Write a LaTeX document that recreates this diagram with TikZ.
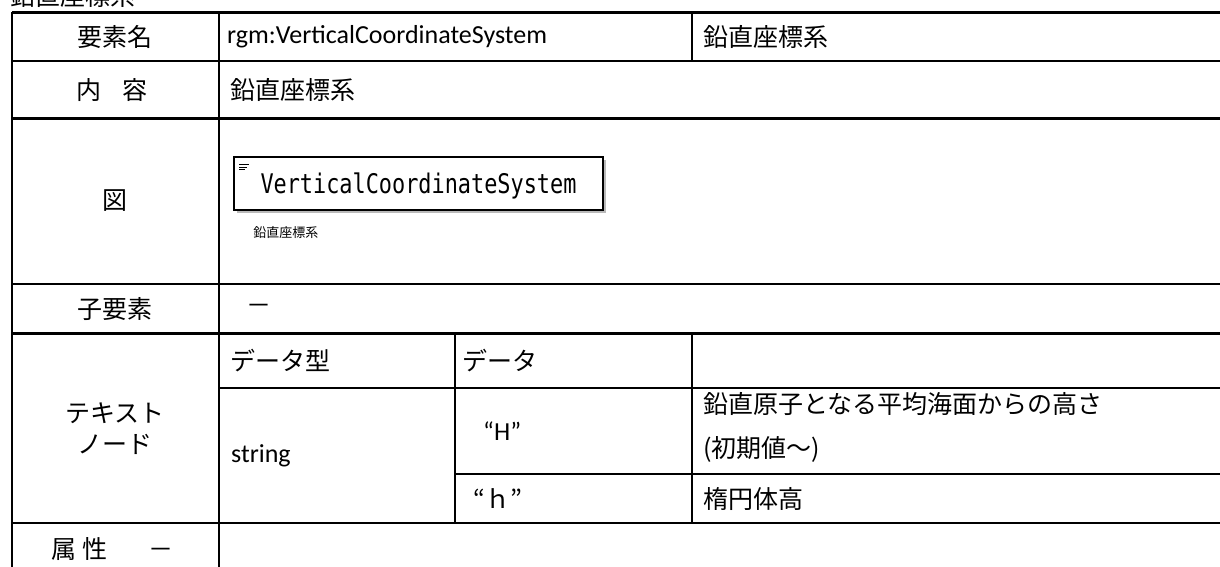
\documentclass[tikz,border=0pt]{standalone}
\usepackage{fontspec}
\setmainfont{Carlito}
\newfontfamily\jpfont{Noto Sans CJK JP}
\newfontfamily\umlfont[FakeStretch=0.81]{DejaVu Sans Mono}
\usetikzlibrary{positioning,shadows}

\begin{document}
\begin{tikzpicture}[x=1pt,y=-1pt,node distance=16pt and 20pt,
		rule/.style={line width=2.4pt},
		head/.style={font=\jpfont\fontsize{25}{31}\selectfont,inner sep=0pt,align=center},
		cell/.style={font=\jpfont\fontsize{25}{44}\selectfont,inner sep=0pt,anchor=west,align=left},
		latin/.style={font=\fontsize{26}{31}\selectfont,inner sep=0pt,anchor=west},
		classbox/.style={draw,line width=1.6pt,fill=white,minimum width=369pt,minimum height=53pt,
			inner sep=0pt,text height=20pt,text depth=0pt,font=\umlfont\fontsize{27}{30}\selectfont,
			drop shadow={shadow xshift=3pt,shadow yshift=-3pt,opacity=0.45,fill=black!60}},
		caption/.style={font=\jpfont\fontsize{13}{15}\selectfont,inner sep=0pt}]
	\path[use as bounding box,clip] (0,0) rectangle (1220,567);

	% title, cut at the top
	\node[cell] (title) at (10,-4) {鉛直座標系};

	% grid
	\draw[rule] (12,12.5) -- (1240,12.5);
	\draw[rule] (12,61) -- (1240,61);
	\draw[rule] (12,118.5) -- (1240,118.5);
	\draw[rule] (12,284) -- (1240,284);
	\draw[rule] (12,333.5) -- (1240,333.5);
	\draw[rule] (219,388) -- (1240,388);
	\draw[rule] (455,474) -- (1240,474);
	\draw[rule] (12,523) -- (1240,523);
	\draw[rule] (12,12.5) -- (12,590);
	\draw[rule] (219,12.5) -- (219,590);
	\draw[rule] (692,12.5) -- (692,61);
	\draw[rule] (455,333.5) -- (455,523);
	\draw[rule] (692,333.5) -- (692,523);

	% element name
	\node[head] (nameHead) at (115,37) {要素名};
	\node[latin] (nameVal) at (227,37) {rgm:VerticalCoordinateSystem};
	\node[cell] (nameJp) at (703,37) {鉛直座標系};

	% content
	\node[head] (contHead) at (112,90) {内\hspace{0.82em}容};
	\node[cell] (contVal) at (230,90) {鉛直座標系};

	% figure
	\node[head] (figHead) at (115,201) {図};
	\node[classbox] (umlBox) at (418.5,183.5) {VerticalCoordinateSystem};
	\draw[line width=0.8pt] ([shift={(6,8)}]umlBox.north west) -- ++(10,0);
	\draw[line width=0.8pt] ([shift={(6,10.7)}]umlBox.north west) -- ++(8,0);
	\draw[line width=0.8pt] ([shift={(6,13.4)}]umlBox.north west) -- ++(6,0);
	\node[caption,below right=of umlBox.south west] (umlCaption) {鉛直座標系};

	% child elements
	\node[head] (childHead) at (115,309) {子要素};
	\node[cell] (childVal) at (246,309) {－};

	% text node
	\node[head] (textHead) at (115,429) {テキスト\\ノード};
	\node[cell] (typeHead) at (230,361) {データ型};
	\node[cell] (dataHead) at (462,361) {データ};
	\node[latin] (typeVal) at (231,456) {string};
	\node[latin] (dataUpper) at (483,431) {“H”};
	\node[cell] (dataLower) at (473,498.5) {“ｈ”};
	\node[cell] (descUpper) at (703,427) {鉛直原子となる平均海面からの高さ\\(初期値〜)};
	\node[cell] (descLower) at (703,498.5) {楕円体高};

	% attributes
	\node[head] (attrHead) at (112.5,549) {属\hspace{0.26em}性\hspace{1.66em}－};
\end{tikzpicture}
\end{document}
